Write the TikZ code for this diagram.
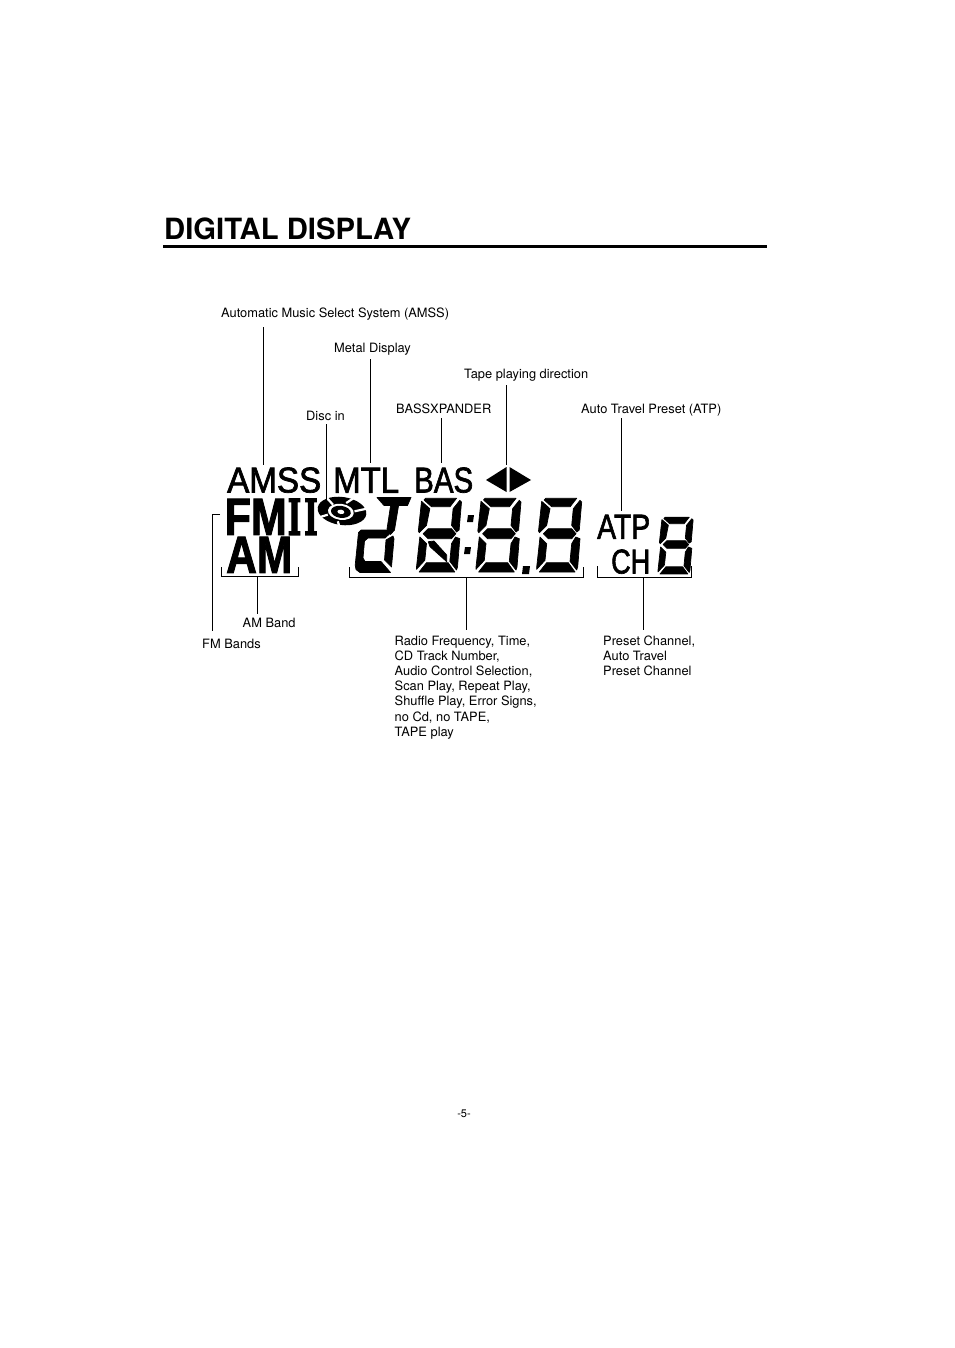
\documentclass[tikz,border=0pt]{standalone}
\usepackage{fontspec}
\usepackage{graphicx}
\setmainfont{TeX Gyre Heros}
\newfontfamily\lcdsans[FakeBold=2]{Liberation Sans}
\newfontfamily\lcdheavy[BoldFeatures={FakeBold=2}]{Liberation Sans}
\newfontfamily\lcdserif[BoldFont={DejaVu Serif Bold},BoldFeatures={FakeBold=3}]{DejaVu Serif}
\tikzset{
 lbl/.style={inner sep=0pt,anchor=north west,align=left,font=\fontsize{12.85}{15.2}\selectfont},
 leader/.style={draw=black,line width=0.9pt},
 big/.style={inner sep=0pt,anchor=south west},
 seg/.style={fill=black,draw=black,line width=0.7pt,line join=round},
}
\newcommand{\lcddigit}[4]{%
\begin{scope}[shift={(#1,#2)},xscale=#3,yscale=#4]
\path[seg] (9,0.3)--(40,0.3)--(33.5,8.7)--(15,8.7)--(7.5,2)--cycle;
\path[seg] (5,3.3)--(13.3,10.7)--(10,27.3)--(2.8,34.7)--(1.8,33)--cycle;
\path[seg] (43.3,2.3)--(45,4)--(42.6,32)--(40,34)--(35,27.3)--(36.6,10.7)--cycle;
\path[seg] (6.6,35.7)--(11.6,30.7)--(35,30.7)--(39.3,35.7)--(35,40.7)--(11.6,40.7)--cycle;
\path[seg] (3.3,39)--(10,45.7)--(8.3,62.3)--(0,71.3)--(0,69)--cycle;
\path[seg] (39,39)--(43.3,40.7)--(41,69)--(40,72)--(33.3,63.3)--(35,45.7)--cycle;
\path[seg] (2.6,74)--(10,64.7)--(31.6,64.7)--(38.3,74)--cycle;
\end{scope}}
\begin{document}
\begin{tikzpicture}[x=1pt,y=-1pt]
\useasboundingbox[fill=white] (0,0) rectangle (954,1348);
% title
\node[inner sep=0pt,anchor=base west] (title) at (164,240) {\resizebox{247pt}{!}{\bfseries DIGITAL DISPLAY}};
\coordinate (ruleL) at (163,247);\coordinate (ruleR) at (767,247);
\draw[line width=3pt] (ruleL)--(ruleR);
% labels
\node[lbl] (lamss) at (221,307.5) {Automatic Music Select System (AMSS)};
\node[lbl] (lmetal) at (334,342.5) {Metal Display};
\node[lbl] (ltape) at (464,368.5) {Tape playing direction};
\node[lbl] (lbass) at (396,403.5) {BASSXPANDER};
\node[lbl] (latp) at (581,403.5) {Auto Travel Preset (ATP)};
\node[lbl] (ldisc) at (306,410.5) {Disc in};
\node[lbl] (lam) at (242.5,617.5) {AM Band};
\node[lbl] (lfm) at (202,638.5) {FM Bands};
\node[lbl] (lradio) at (394.5,635.5) {Radio Frequency, Time,\\CD Track Number,\\Audio Control Selection,\\Scan Play, Repeat Play,\\Shuffle Play, Error Signs,\\no Cd, no TAPE,\\TAPE play};
\node[lbl] (lpreset) at (603,635.5) {Preset Channel,\\Auto Travel\\Preset Channel};
\node[inner sep=0pt,anchor=base] (page) at (464,1117) {\fontsize{11}{13}\selectfont -5-};
% big words
\node[big] (wamss) at (227,493) {\resizebox{94pt}{25pt}{\lcdsans AMSS}};
\node[big] (wmtl) at (333,493) {\resizebox{66pt}{25pt}{\lcdsans MTL}};
\node[big] (wbas) at (414,493) {\resizebox{59pt}{25pt}{\lcdsans BAS}};
\node[big] (wfm) at (224.5,535) {\resizebox{62pt}{36pt}{\lcdheavy\bfseries FM}};
\node[big] (wii) at (287.5,535) {\resizebox{30pt}{36pt}{\lcdserif\bfseries I\hspace{0.1em}I}};
\node[big] (wam) at (226,573) {\resizebox{66pt}{36pt}{\lcdheavy\bfseries AM}};
\node[big] (watp) at (597,539) {\resizebox{53pt}{24pt}{\lcdsans ATP}};
\node[big] (wch) at (611,574) {\resizebox{39pt}{24pt}{\lcdsans CH}};
% direction arrows
\fill (486,480)--(506.5,467)--(506.5,492)--cycle;
\fill (531,480)--(509.5,467)--(509.5,492)--cycle;
% disc
\begin{scope}[shift={(342,511)}]
\fill[rotate=-8] (0,0) ellipse [x radius=24.5,y radius=14];
\fill[white,rotate=-8] (-1,1) ellipse [x radius=13,y radius=8];
\fill[rotate=-8] (-1,1) ellipse [x radius=10,y radius=6];
\fill[white,rotate=-8] (-1,1) ellipse [x radius=3.5,y radius=2.2];
\draw[white,line width=2.2pt] (-9,-6.3)--(-16,-14) (4.2,-8)--(15,-15) (12.5,0.3)--(28,-3) (-4.2,10.3)--(-2.5,16) (-14.2,3.7)--(-27,7.5);
\end{scope}
% digit d + 1
\path[seg] (377,497.5)--(411,497.5)--(407.5,505.5)--(384,505.5)--cycle;
\path[seg] (390.5,506)--(398.5,506)--(394.5,530)--(390.5,534.5)--(387,529)--cycle;
\path[seg] (358.5,532.5)--(361,530)--(387.5,530)--(390.5,533)--(385,538)--(368,538)--(364.5,541)--(363,558)--(365,561.5)--(381,561.5)--(390.5,572.5)--(360,572.5)--(356,569.5)--(355.2,565)--cycle;
\path[seg] (386,540)--(393,536)--(394,539)--(391.5,567)--(384.5,560)--cycle;
% digits
\lcddigit{416.5}{498}{1}{1}
\lcddigit{476}{498}{1}{1}
\lcddigit{536.7}{498}{1}{1}
\lcddigit{658}{517}{0.78}{0.77}
% diagonal inside second digit
\path[seg] (428.3,541.7)--(434,541)--(446.7,555)--(446.7,561.7)--(430,546.7)--cycle;
% colons and decimal point
\fill (468,515)--(474,515)--(473,522)--(467,522)--cycle;
\fill (465,547)--(471,547)--(470,554)--(464,554)--cycle;
\fill (523,566)--(530,566)--(529,574)--(522,574)--cycle;
% leader ends
\coordinate (a1) at (263.5,327);\coordinate (a2) at (263.5,465);
\coordinate (m1) at (370.5,359);\coordinate (m2) at (370.5,463);
\coordinate (d1) at (326.5,424);\coordinate (d2) at (326.5,500);
\coordinate (b1) at (441.5,418);\coordinate (b2) at (441.5,463);
\coordinate (t1) at (506,385);\coordinate (t2) at (506,465);
\coordinate (p1) at (621,418);\coordinate (p2) at (621,511);
\coordinate (f1) at (220,514.5);\coordinate (f2) at (212,514.5);\coordinate (f3) at (212,631);
\coordinate (am1) at (221.5,567);\coordinate (am2) at (221.5,576);\coordinate (am3) at (298.5,576);\coordinate (am4) at (298.5,567);\coordinate (am5) at (257.5,576);\coordinate (am6) at (257.5,614);
\coordinate (r1) at (349.5,567);\coordinate (r2) at (349.5,577.5);\coordinate (r3) at (583.5,577.5);\coordinate (r4) at (583.5,567);\coordinate (r5) at (466.5,577.5);\coordinate (r6) at (466.5,630);
\coordinate (c1) at (597,566);\coordinate (c2) at (597,577.5);\coordinate (c3) at (691.5,577.5);\coordinate (c4) at (691.5,566);\coordinate (c5) at (643.5,577.5);\coordinate (c6) at (643.5,630);
\draw[leader] (a1)--(a2);
\draw[leader] (m1)--(m2);
\draw[leader] (d1)--(d2);
\draw[leader] (b1)--(b2);
\draw[leader] (t1)--(t2);
\draw[leader] (p1)--(p2);
\draw[leader] (f1)--(f2)--(f3);
\draw[leader] (am1)--(am2)--(am3)--(am4);
\draw[leader] (am5)--(am6);
\draw[leader] (r1)--(r2)--(r3)--(r4);
\draw[leader] (r5)--(r6);
\draw[leader] (c1)--(c2)--(c3)--(c4);
\draw[leader] (c5)--(c6);
\end{tikzpicture}
\end{document}
